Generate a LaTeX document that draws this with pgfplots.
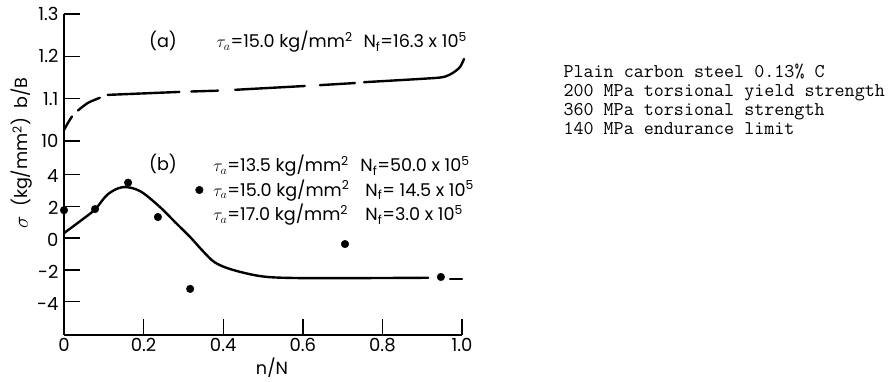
\documentclass[border=0pt]{standalone}
\usepackage{fontspec}
\setmainfont{Poppins}
\usepackage{pgfplots}
\pgfplotsset{compat=1.18}

\pgfplotsset{
  panel/.style={
    scale only axis, width=398pt, height=321pt,
    xmin=0, xmax=1,
    clip=false,
    tick align=inside,
    major tick length=16pt,
    every tick/.style={line width=1.4pt, black},
    axis line style={line width=1.8pt, black},
    tick label style={font=\fontsize{18}{20}\selectfont},
  },
  curve/.style={black, line width=2.4pt, line cap=round},
}

\begin{document}
\begin{tikzpicture}[font=\fontsize{17.6}{20}\selectfont]
\useasboundingbox (-64pt,-47pt) rectangle (830pt,335pt);

% lower panel (b): residual stress sigma in kg/mm^2
\begin{axis}[panel,
  ymin=-6.1, ymax=14.09,
  axis x line*=bottom, axis y line*=left,
  xtick={0,0.2,0.4,0.6,0.8,1.0},
  xticklabels={0,0.2,0.4,0.6,0.8,1.0},
  ytick={-4,-2,0,2,4},
  yticklabels={-4,-2,0,2,4},
  yticklabel style={xshift=-2pt, yshift=-2pt},
  legend style={at={(axis cs:0.3296,3.02)}, anchor=west, draw=none, fill=none,
    inner sep=0pt, row sep=12pt, column sep=10pt,
    nodes={text height=12.5pt, text depth=0pt, inner sep=0pt},
    cells={anchor=west}, font=\fontsize{17.6}{20}\selectfont},
]
\addlegendimage{empty legend}
\addlegendentry{\makebox[147pt][l]{$\tau_a$=13.5 kg/mm\textsuperscript{2}}N\textsubscript{f}=50.0 x 10\textsuperscript{5}}
\addlegendimage{legend image code/.code={\fill[black] (0pt,0pt) circle (3.8pt);}}
\addlegendentry{\makebox[152pt][l]{$\tau_a$=15.0 kg/mm\textsuperscript{2}}N\textsubscript{f}= 14.5 x 10\textsuperscript{5}}
\addlegendimage{empty legend}
\addlegendentry{\makebox[152pt][l]{$\tau_a$=17.0 kg/mm\textsuperscript{2}}N\textsubscript{f}=3.0 x 10\textsuperscript{5}}

\addplot[curve, smooth, tension=0.55] coordinates {
  (0,0.31) (0.04,1.05) (0.078,1.8) (0.11,2.75) (0.148,3.2) (0.191,2.95)
  (0.241,1.95) (0.279,1.0) (0.317,0.06) (0.35,-0.85) (0.38,-1.55) (0.425,-2.01)
  (0.5,-2.42) (0.593,-2.52) (0.75,-2.52) (0.915,-2.5)
};
\addplot[curve] coordinates {(0.97,-2.57) (1.0,-2.57)};
\addplot[only marks, mark=*, mark size=3.8pt, black] coordinates {
  (0.0,1.75) (0.078,1.82) (0.161,3.48) (0.236,1.32) (0.317,-3.2)
  (0.706,-0.38) (0.947,-2.45)
};
\end{axis}

% upper panel (a): b/B
\begin{axis}[panel,
  ymin=0.5414, ymax=1.3002,
  axis x line=none, axis y line*=left,
  ytick={1.0,1.1,1.2,1.3},
  yticklabels={10,1.1,1.2,1.3},
  yticklabel style={xshift=-2pt},
]
\addplot[curve, smooth] coordinates {(0,1.026) (0.01,1.043) (0.02,1.058)};
\addplot[curve, smooth] coordinates {(0.035,1.072) (0.06,1.09) (0.09,1.102)};
\addplot[curve] coordinates {(0.11,1.109) (0.29,1.116)};
\addplot[curve] coordinates {(0.32,1.117) (0.387,1.119)};
\addplot[curve] coordinates {(0.43,1.121) (0.605,1.13)};
\addplot[curve] coordinates {(0.643,1.132) (0.731,1.137)};
\addplot[curve, smooth] coordinates {(0.754,1.139) (0.9,1.147) (0.952,1.151)
  (0.977,1.161) (0.995,1.175) (1.005,1.194)};
\end{axis}

% annotations
\node[anchor=base] at (99pt,287pt) {(a)};
\node[anchor=base west] at (149pt,287pt) {$\tau_a$=15.0 kg/mm\textsuperscript{2}};
\node[anchor=base west] at (296pt,287pt) {N\textsubscript{f}=16.3 x 10\textsuperscript{5}};
\node[anchor=base] at (99pt,164pt) {(b)};

\node[rotate=90] at (-42pt,182pt)
  {{\fontsize{21}{22}\selectfont$\sigma$}\ \ (kg/mm\textsuperscript{2})\ \ b/B};
\node[inner sep=0pt] at (208pt,-33pt) {n/N};

\begin{scope}[every node/.style={anchor=base west, font=\ttfamily\fontsize{19.5}{19}\selectfont}]
\node at (496pt,257pt) {Plain carbon steel 0.13\% C};
\node at (496pt,238pt) {200 MPa torsional yield strength};
\node at (496pt,219pt) {360 MPa torsional strength};
\node at (496pt,200pt) {140 MPa endurance limit};
\end{scope}
\end{tikzpicture}
\end{document}
